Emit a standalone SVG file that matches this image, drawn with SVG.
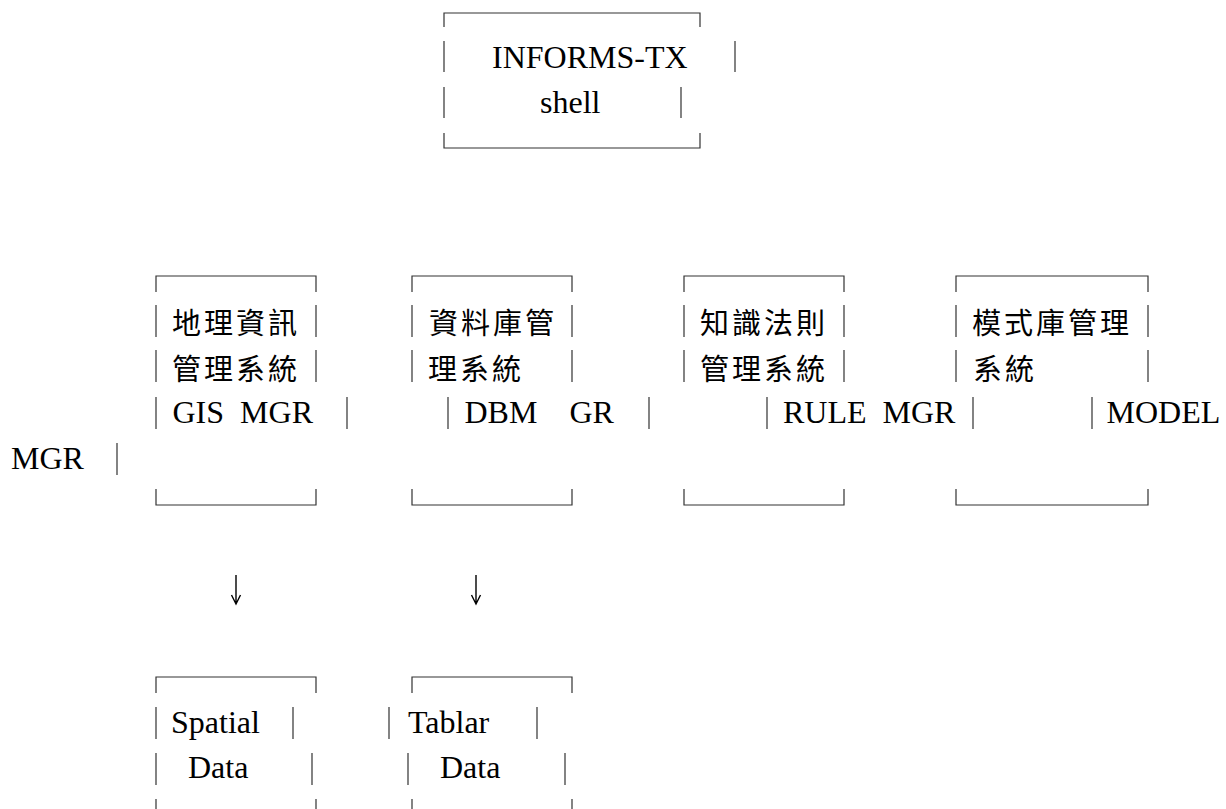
<svg xmlns="http://www.w3.org/2000/svg" width="1226" height="809" viewBox="0 0 1226 809">
<style>
.frame{fill:none;stroke:#333;stroke-width:1.2}
.lat{font-family:"Liberation Serif","Times New Roman",serif;font-size:32px;fill:#000;white-space:pre}
.cjk{font-family:"Noto Sans CJK TC","Noto Sans CJK SC","Noto Sans CJK JP",sans-serif;font-size:29px;letter-spacing:3px;fill:#000}
.arrow{fill:none;stroke:#000;stroke-width:1.4}
</style>
<rect width="1226" height="809" fill="#fff"/>
<g id="node-informs">
<path class="frame" d="M444,27 V13 H700 V27 M444,41 V72 M735,41 V72 M444,87 V118 M681,87 V118 M444,133 V148 H700 V133"/>
<text class="lat" x="492" y="68">INFORMS-TX</text>
<text class="lat" x="540" y="113">shell</text>
</g>
<g id="node-gis">
<path class="frame" d="M156,292 V276 H316 V292 M156,305 V337 M316,305 V337 M156,350 V382 M316,350 V382 M156,397 V429 M347,397 V429 M156,489 V505 H316 V489"/>
<text class="cjk" x="172" y="333.5">地理資訊</text>
<text class="cjk" x="172" y="379.5">管理系統</text>
<text class="lat" x="172.5" y="423" xml:space="preserve">GIS  MGR</text>
</g>
<g id="node-dbm">
<path class="frame" d="M412,292 V276 H572 V292 M412,305 V337 M572,305 V337 M412,350 V382 M572,350 V382 M448,397 V429 M649,397 V429 M412,489 V505 H572 V489"/>
<text class="cjk" x="429" y="333.5">資料庫管</text>
<text class="cjk" x="428" y="379.5">理系統</text>
<text class="lat" x="464.5" y="423" xml:space="preserve">DBM    GR</text>
</g>
<g id="node-rule">
<path class="frame" d="M684,292 V276 H844 V292 M684,305 V337 M844,305 V337 M684,350 V382 M844,350 V382 M767,397 V429 M973,397 V429 M684,489 V505 H844 V489"/>
<text class="cjk" x="700" y="333.5">知識法則</text>
<text class="cjk" x="700" y="379.5">管理系統</text>
<text class="lat" x="783" y="423" xml:space="preserve">RULE  MGR</text>
</g>
<g id="node-model">
<path class="frame" d="M956,292 V276 H1148 V292 M956,305 V337 M1148,305 V337 M956,350 V382 M1148,350 V382 M1092,397 V429 M117,443 V475 M956,489 V505 H1148 V489"/>
<text class="cjk" x="972" y="333.5">模式庫管理</text>
<text class="cjk" x="973" y="379.5">系統</text>
<text class="lat" x="1106.5" y="423">MODEL</text>
<text class="lat" x="11" y="469">MGR</text>
</g>
<g id="connectors">
<path class="arrow" d="M236,575 V604 M231.5,595 L236,604 L240.5,595"/>
<path class="arrow" d="M476,575 V604 M471.5,595 L476,604 L480.5,595"/>
</g>
<g id="node-spatial">
<path class="frame" d="M156,693 V677 H316 V693 M156,707 V739 M293,707 V739 M156,753 V785 M312,753 V785 M156,799 V815 H316 V799"/>
<text class="lat" x="171" y="733">Spatial</text>
<text class="lat" x="188" y="778">Data</text>
</g>
<g id="node-tablar">
<path class="frame" d="M412,693 V677 H572 V693 M389,707 V739 M537,707 V739 M408,753 V785 M565,753 V785 M412,799 V815 H572 V799"/>
<text class="lat" x="408" y="733">Tablar</text>
<text class="lat" x="440" y="778">Data</text>
</g>
</svg>
